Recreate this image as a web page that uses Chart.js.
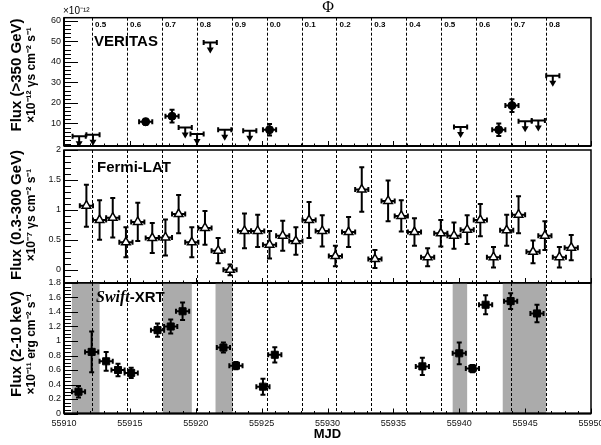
<!DOCTYPE html>
<html>
<head>
<meta charset="utf-8">
<script src="https://cdn.jsdelivr.net/npm/chart.js"></script>
<style>
body { margin: 0; background: #fff; width: 601px; height: 445px; overflow: hidden; position: relative; }
canvas { position: absolute; left: 0; }
</style>
</head>
<body>
<canvas id="Chart-0" width="601" height="151" style="top:0px"></canvas>
<canvas id="Chart-1" width="601" height="150" style="top:140px"></canvas>
<canvas id="Chart-2" width="601" height="172" style="top:273px"></canvas>
<script>
// orbital phase grid (LS I +61 303), labels written at the top
const phaseMjd = [55912.13, 55914.78, 55917.43, 55920.08, 55922.73, 55925.38, 55928.03,
                  55930.68, 55933.33, 55935.98, 55938.63, 55941.28, 55943.93, 55946.58]
const phaseLabels = ['0.5','0.6','0.7','0.8','0.9','0.0','0.1','0.2','0.3','0.4','0.5','0.6','0.7','0.8']
const mjdTicks = [55910, 55915, 55920, 55925, 55930, 55935, 55940, 55945, 55950]

// VERITAS (>350 GeV), x1e-12
const veritasMjd  = [55916.2, 55918.2, 55925.6, 55943.0, 55944.0]
const veritasFlux = [10.8, 13.5, 6.9, 6.9, 18.7]
const veritasErr  = [1.5, 3.1, 2.8, 3.0, 3.1]
const veritasUlMjd = [55911.15, 55912.2, 55919.2, 55920.1, 55921.1, 55922.2, 55924.1, 55940.1, 55945.0, 55946.0, 55947.1]
const veritasUl    = [3.7, 4.5, 8.0, 4.8, 49.4, 6.9, 6.4, 8.3, 11.1, 11.4, 33.2]
const veritasTicks = [10, 20, 30, 40, 50, 60]

// Fermi-LAT (0.3-300 GeV), x1e-7
const fermiMjd = [55911.7, 55912.7, 55913.7, 55914.7, 55915.6, 55916.7, 55917.7, 55918.7, 55919.7, 55920.7,
                  55921.7, 55922.6, 55923.7, 55924.7, 55925.6, 55926.6, 55927.6, 55928.6, 55929.6, 55930.6,
                  55931.6, 55932.6, 55933.6, 55934.6, 55935.6, 55936.6, 55937.6, 55938.6, 55939.6, 55940.6,
                  55941.6, 55942.6, 55943.6, 55944.5, 55945.6, 55946.5, 55947.6, 55948.5]
const fermiFlux = [1.07, 0.83, 0.87, 0.46, 0.80, 0.53, 0.54, 0.93, 0.46, 0.70,
                   0.32, 0.00, 0.65, 0.65, 0.42, 0.57, 0.48, 0.83, 0.65, 0.23,
                   0.63, 1.34, 0.18, 1.15, 0.90, 0.63, 0.21, 0.61, 0.57, 0.67,
                   0.83, 0.21, 0.66, 0.92, 0.30, 0.57, 0.21, 0.37]
const fermiErr  = [0.35, 0.33, 0.33, 0.25, 0.32, 0.25, 0.30, 0.32, 0.25, 0.28,
                   0.21, 0.09, 0.29, 0.27, 0.23, 0.25, 0.23, 0.30, 0.26, 0.17,
                   0.25, 0.37, 0.15, 0.34, 0.26, 0.23, 0.15, 0.22, 0.22, 0.24,
                   0.27, 0.17, 0.26, 0.31, 0.19, 0.24, 0.17, 0.21]
const fermiTicks = [0, 0.5, 1, 1.5, 2]

// Swift-XRT (2-10 keV), x1e-11
const swiftMjd  = [55911.1, 55912.1, 55913.2, 55914.1, 55915.1, 55917.1, 55918.1, 55919.0, 55922.1,
                   55923.05, 55925.1, 55926.0, 55937.2, 55940.0, 55941.0, 55942.0, 55943.9, 55945.9]
const swiftFlux = [0.30, 0.85, 0.72, 0.60, 0.56, 1.15, 1.20, 1.41, 0.91,
                   0.66, 0.37, 0.81, 0.65, 0.83, 0.62, 1.50, 1.55, 1.38]
const swiftErr  = [0.08, 0.28, 0.13, 0.085, 0.07, 0.09, 0.095, 0.12, 0.07,
                   0.05, 0.11, 0.105, 0.12, 0.15, 0.05, 0.13, 0.11, 0.12]
const swiftBands = [[55910.6, 55912.7], [55917.5, 55919.7], [55921.5, 55922.8], [55939.5, 55940.6], [55943.3, 55946.6]]
const swiftTicks = [0, 0.2, 0.4, 0.6, 0.8, 1, 1.2, 1.4, 1.6, 1.8]

const binHalf = 0.5
const sans = '"Liberation Sans", Arial, Helvetica, sans-serif'
const serif = '"Liberation Serif", "Times New Roman", serif'

function points(xs, ys){
    return xs.map((v, i) => ({x: v, y: ys[i]}))
}

function errBar(ctx, sx, sy, m, v, e){
    const px = sx.getPixelForValue(m), py = sy.getPixelForValue(v)
    const x1 = sx.getPixelForValue(m - binHalf), x2 = sx.getPixelForValue(m + binHalf)
    const y1 = sy.getPixelForValue(v - e), y2 = sy.getPixelForValue(v + e)
    ctx.beginPath()
    ctx.moveTo(x1, py); ctx.lineTo(x2, py)
    ctx.moveTo(px, y1); ctx.lineTo(px, y2)
    ctx.moveTo(x1, py - 2.5); ctx.lineTo(x1, py + 2.5)
    ctx.moveTo(x2, py - 2.5); ctx.lineTo(x2, py + 2.5)
    ctx.moveTo(px - 2.5, y1); ctx.lineTo(px + 2.5, y1)
    ctx.moveTo(px - 2.5, y2); ctx.lineTo(px + 2.5, y2)
    ctx.stroke()
}

function upperLimit(ctx, sx, sy, m, v){
    const px = sx.getPixelForValue(m), py = sy.getPixelForValue(v)
    const x1 = sx.getPixelForValue(m - binHalf), x2 = sx.getPixelForValue(m + binHalf)
    ctx.beginPath()
    ctx.moveTo(x1, py); ctx.lineTo(x2, py)
    ctx.moveTo(x1, py - 2.5); ctx.lineTo(x1, py + 2.5)
    ctx.moveTo(x2, py - 2.5); ctx.lineTo(x2, py + 2.5)
    ctx.moveTo(px, py); ctx.lineTo(px, py + 6)
    ctx.stroke()
    ctx.beginPath()
    ctx.moveTo(px - 3.5, py + 5); ctx.lineTo(px + 3.5, py + 5); ctx.lineTo(px, py + 11)
    ctx.closePath()
    ctx.fill()
}

function makePanel(cfg){
    return {
        id: 'panel',
        beforeDatasetsDraw(chart){
            const {ctx, chartArea: a, scales: {x, y}} = chart
            ctx.save()
            // shaded intervals
            ctx.fillStyle = '#ababab'
            ;(cfg.bands || []).forEach(b => {
                const x1 = x.getPixelForValue(b[0]), x2 = x.getPixelForValue(b[1])
                ctx.fillRect(x1, a.top, x2 - x1, a.bottom - a.top)
            })
            // phase lines
            ctx.strokeStyle = '#000'
            ctx.lineWidth = 1
            ctx.setLineDash([3, 2])
            phaseMjd.forEach(m => {
                const px = Math.round(x.getPixelForValue(m)) + 0.5
                ctx.beginPath(); ctx.moveTo(px, a.top); ctx.lineTo(px, a.bottom); ctx.stroke()
            })
            ctx.setLineDash([])
            if (cfg.phaseText){
                ctx.fillStyle = '#000'
                ctx.font = 'bold 8px ' + sans
                ctx.textAlign = 'left'
                ctx.textBaseline = 'middle'
                phaseMjd.forEach((m, i) => ctx.fillText(phaseLabels[i], x.getPixelForValue(m) + 3, a.top + 7))
            }
            // error bars and upper limits
            ctx.strokeStyle = '#000'
            ctx.fillStyle = '#000'
            ctx.lineWidth = 2
            cfg.mjd.forEach((m, i) => errBar(ctx, x, y, m, cfg.flux[i], cfg.err[i]))
            if (cfg.ulMjd) cfg.ulMjd.forEach((m, i) => upperLimit(ctx, x, y, m, cfg.ul[i]))
            ctx.restore()
        },
        afterDraw(chart){
            const {ctx, chartArea: a, scales: {x, y}} = chart
            ctx.save()
            ctx.strokeStyle = '#000'
            ctx.lineWidth = 1
            ctx.beginPath()
            const n0 = Math.ceil(y.min / cfg.minor - 1e-6), n1 = Math.floor(y.max / cfg.minor + 1e-6)
            for (let n = n0; n <= n1; n++){
                const v = n * cfg.minor
                const py = Math.round(y.getPixelForValue(v)) + 0.5
                const major = cfg.ticks.some(t => Math.abs(t - v) < 1e-6)
                ctx.moveTo(a.left, py); ctx.lineTo(a.left + (major ? 14 : 7), py)
            }
            for (let d = 55910; d <= 55950; d++){
                const px = Math.round(x.getPixelForValue(d)) + 0.5
                ctx.moveTo(px, a.bottom); ctx.lineTo(px, a.bottom - (d % 5 === 0 ? 5 : 2.5))
            }
            ctx.stroke()
            // frame
            ctx.lineWidth = 1.5
            ctx.strokeRect(a.left, a.top, a.right - a.left, a.bottom - a.top)
            ctx.lineWidth = 2
            ctx.beginPath()
            ctx.moveTo(a.left, a.top); ctx.lineTo(a.left, a.bottom)
            ctx.moveTo(a.left, a.bottom); ctx.lineTo(a.right, a.bottom)
            ctx.stroke()
            // panel name
            ctx.fillStyle = '#000'
            ctx.textBaseline = 'middle'
            ctx.textAlign = 'left'
            if (cfg.nameItalic){
                ctx.font = 'italic bold 16px ' + serif
                ctx.fillText(cfg.nameItalic, cfg.nameX, cfg.nameY)
                const w = ctx.measureText(cfg.nameItalic).width
                ctx.font = 'bold 15px ' + sans
                ctx.fillText(cfg.name, cfg.nameX + w, cfg.nameY)
            } else {
                ctx.font = 'bold 15px ' + sans
                ctx.fillText(cfg.name, cfg.nameX, cfg.nameY)
            }
            // y axis title, two lines
            ctx.textAlign = 'center'
            ctx.save()
            ctx.translate(16.5, cfg.titleY)
            ctx.rotate(-Math.PI / 2)
            ctx.font = 'bold 15px ' + sans
            ctx.fillText(cfg.title[0], 0, 0)
            ctx.restore()
            ctx.save()
            ctx.translate(31.5, cfg.titleY)
            ctx.rotate(-Math.PI / 2)
            ctx.font = 'bold 12px ' + sans
            ctx.fillText(cfg.title[1], 0, 0)
            ctx.restore()
            if (cfg.phaseText){
                ctx.font = '16px ' + serif
                ctx.fillText('Φ', 328, 8)
                ctx.textAlign = 'left'
                ctx.font = '10px ' + sans
                ctx.fillText('×10⁻¹²', 63, 11)
            }
            ctx.restore()
        }
    }
}

function draw_panel(id, cfg, dataset){
    const ctx = document.getElementById(id).getContext('2d')
    const xAxis = {
        type: 'linear', min: 55910, max: 55950, display: !!cfg.showX,
        afterBuildTicks: s => { s.ticks = mjdTicks.map(v => ({value: v})) },
        afterFit: s => { s.height = cfg.xHeight || 0; s.paddingLeft = 0; s.paddingRight = 0 },
        grid: {display: false, drawTicks: false},
        border: {display: false},
        ticks: {font: {family: sans, size: 9}, color: '#111', padding: 5, maxRotation: 0, autoSkip: false,
                callback: v => String(v)},
        title: {display: true, text: 'MJD', color: '#000', font: {family: sans, size: 13, weight: 'bold'},
                padding: {top: 0, bottom: 3}}
    }
    return new Chart(ctx, {
        type: 'scatter',
        data: {datasets: [dataset]},
        options: {
            responsive: false,
            animation: false,
            layout: {padding: cfg.padding},
            plugins: {legend: {display: false}, tooltip: {enabled: false}},
            scales: {
                x: xAxis,
                y: {
                    type: 'linear', min: cfg.yMin, max: cfg.yMax,
                    afterBuildTicks: s => { s.ticks = cfg.ticks.map(v => ({value: v})) },
                    afterFit: s => { s.width = 64; s.paddingTop = 0; s.paddingBottom = 0 },
                    grid: {display: false, drawTicks: false},
                    border: {display: false},
                    ticks: {font: {family: sans, size: 9}, color: '#111', padding: 3, callback: v => String(v)}
                }
            }
        },
        plugins: [makePanel(cfg)]
    })
}

draw_panel('Chart-0', {
    padding: {top: 17.7, bottom: 1, left: 0, right: 10},
    yMin: -1, yMax: 61.5, ticks: veritasTicks, minor: 2,
    mjd: veritasMjd, flux: veritasFlux, err: veritasErr,
    ulMjd: veritasUlMjd, ul: veritasUl,
    phaseText: true,
    name: 'VERITAS', nameX: 94, nameY: 42,
    title: ['Flux (>350 GeV)', '×10⁻¹² γs cm⁻² s⁻¹'], titleY: 75
}, {
    data: points(veritasMjd, veritasFlux),
    pointStyle: 'circle', pointRadius: 4, backgroundColor: '#000', borderColor: '#000', borderWidth: 1
})

draw_panel('Chart-1', {
    padding: {top: 10, bottom: 7, left: 0, right: 10},
    yMin: -0.22, yMax: 2.0, ticks: fermiTicks, minor: 0.1,
    mjd: fermiMjd, flux: fermiFlux, err: fermiErr,
    name: 'Fermi-LAT', nameX: 97, nameY: 27.5,
    title: ['Flux (0.3-300 GeV)', '×10⁻⁷ γs cm⁻² s⁻¹'], titleY: 75
}, {
    data: points(fermiMjd, fermiFlux),
    pointStyle: 'triangle', pointRadius: 5, backgroundColor: '#fff', borderColor: '#000', borderWidth: 1.5
})

draw_panel('Chart-2', {
    padding: {top: 10, bottom: 0, left: 0, right: 10},
    yMin: 0, yMax: 1.8, ticks: swiftTicks, minor: 0.05,
    mjd: swiftMjd, flux: swiftFlux, err: swiftErr,
    bands: swiftBands,
    showX: true, xHeight: 31.5,
    nameItalic: 'Swift', name: '-XRT', nameX: 96, nameY: 25,
    title: ['Flux (2-10 keV)', '×10⁻¹¹ erg cm⁻² s⁻¹'], titleY: 71
}, {
    data: points(swiftMjd, swiftFlux),
    pointStyle: 'rect', pointRadius: 5, backgroundColor: '#000', borderColor: '#000', borderWidth: 1
})
</script>
</body>
</html>
